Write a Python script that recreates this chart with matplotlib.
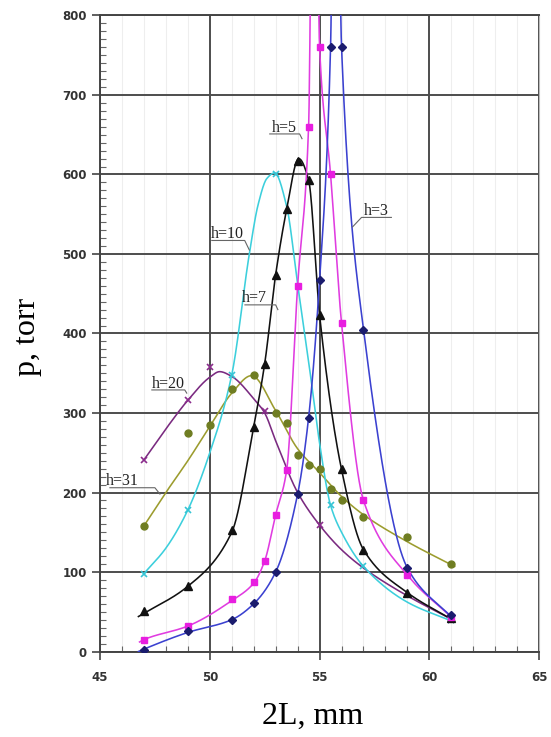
import numpy as np
import matplotlib.pyplot as plt
from matplotlib.ticker import MultipleLocator

# measured points (2L in mm, p in torr)
h3_x = [47, 49, 51, 52, 53, 54, 54.5, 55, 55.5, 56, 57, 59, 61]
h3_p = [2, 26, 40, 61, 100, 198, 294, 467, 760, 760, 405, 105, 46]
h5_x = [47, 49, 51, 52, 52.5, 53, 53.5, 54, 54.5, 55, 55.5, 56, 57, 59, 61]
h5_p = [15, 32, 66, 87, 114, 172, 228, 460, 660, 760, 600, 413, 190, 96, 44]
h7_x = [47, 49, 51, 52, 52.5, 53, 53.5, 54, 54.5, 55, 56, 57, 59, 61]
h7_p = [51, 82, 153, 283, 362, 474, 556, 617, 593, 423, 229, 128, 74, 42]
h10_x = [47, 49, 51, 53, 55.5, 57, 61]
h10_p = [98, 178, 348, 601, 184, 107, 40]
h20_x = [47, 49, 50, 52.5, 55, 61]
h20_p = [241, 316, 358, 302, 159, 40]
h31_x = [47, 49, 50, 51, 52, 53, 53.5, 54, 54.5, 55, 55.5, 56, 57, 59, 61]
h31_p = [158, 275, 285, 330, 348, 300, 287, 247, 235, 230, 204, 190, 169, 144, 110]

# fitted curves
f3_x = [46.75, 47, 49, 51, 52, 53, 54, 54.5, 55, 55.5, 55.72, 56, 57, 59, 61.05]
f3_p = [0, 3, 24, 40, 60, 100, 198, 294, 467, 760, 1250, 760, 405, 105, 42]
f5_x = [46.8, 47, 49, 51, 52, 52.5, 53, 53.5, 54, 54.5, 54.75, 55, 55.5, 56, 57, 59, 61.05]
f5_p = [12, 15, 32, 64, 86, 114, 172, 228, 460, 660, 1250, 760, 600, 413, 190, 96, 42]
f7_x = [46.75, 47, 49, 51, 52, 52.5, 53, 53.5, 54.05, 54.5, 55, 56, 57, 59, 61.05]
f7_p = [44, 48, 82, 150, 283, 362, 474, 556, 620, 593, 423, 229, 128, 74, 40]
f10_x = [47, 48, 49, 50, 51, 51.8, 52.2, 52.6, 52.95, 53.5, 54, 54.5, 55, 55.5, 56, 57, 59, 61.05]
f10_p = [98, 130, 178, 250, 348, 500, 562, 595, 602, 560, 462, 365, 262, 184, 150, 107, 62, 38]
f20_x = [47, 48, 49, 50, 50.45, 51, 52, 52.5, 53, 54, 55, 56, 57, 59, 61.05]
f20_p = [241, 280, 316, 345, 352, 346, 318, 300, 265, 200, 159, 128, 105, 70, 40]
f31_x = [47, 48, 49, 50, 51, 51.9, 53, 54, 55, 56, 57, 59, 61.15]
f31_p = [158, 200, 240, 283, 325, 347, 303, 255, 225, 195, 172, 138, 107]


def pchip(x, y, xn):
    x = np.asarray(x, float)
    y = np.asarray(y, float)
    h = np.diff(x)
    d = np.diff(y) / h
    m = np.zeros_like(y)
    for k in range(1, len(x) - 1):
        if d[k - 1] * d[k] > 0:
            w1 = 2 * h[k] + h[k - 1]
            w2 = h[k] + 2 * h[k - 1]
            m[k] = (w1 + w2) / (w1 / d[k - 1] + w2 / d[k])
    m[0], m[-1] = d[0], d[-1]
    i = np.clip(np.searchsorted(x, xn) - 1, 0, len(h) - 1)
    t = (xn - x[i]) / h[i]
    return ((2 * t**3 - 3 * t**2 + 1) * y[i] + (t**3 - 2 * t**2 + t) * h[i] * m[i]
            + (-2 * t**3 + 3 * t**2) * y[i + 1] + (t**3 - t**2) * h[i] * m[i + 1])


fig = plt.figure(figsize=(5.51, 7.37), dpi=100)
ax = fig.add_axes([0.1815, 0.116, 0.797, 0.863])

series = [
    (f31_x, f31_p, h31_x, h31_p, '#9c9c2e', '#6f7d22', 'o', 5, 1.0),
    (f20_x, f20_p, h20_x, h20_p, '#7a2a80', '#8a2c8c', 'x', 5, 1.2),
    (f10_x, f10_p, h10_x, h10_p, '#3ccfdc', '#35c4d4', 'x', 5, 1.2),
    (f7_x, f7_p, h7_x, h7_p, '#111111', '#111111', '^', 5.5, 1.0),
    (f5_x, f5_p, h5_x, h5_p, '#e03ce0', '#e81ee0', 's', 5, 1.0),
    (f3_x, f3_p, h3_x, h3_p, '#3b41d0', '#1b1c6e', 'D', 4, 1.0),
]
for fx, fp, mx, mp, lc, mc, mk, ms, mew in series:
    xs = np.linspace(fx[0], fx[-1], 800)
    ax.plot(xs, pchip(fx, fp, xs), color=lc, lw=1.15, zorder=3)
    ax.plot(mx, mp, ls='none', marker=mk, ms=ms, color=mc, mew=mew, zorder=4)

# label, text x, underline start/end x, underline y, leader end x/y
labels = [
    ('h=3', 57.59, 58.27, 56.91, 546, 56.5, 534),
    ('h=5', 53.41, 52.73, 54.09, 651, 54.2, 645),
    ('h=10', 50.82, 50.09, 51.59, 517, 51.8, 505),
    ('h=7', 52.05, 51.6, 53.0, 436, 53.1, 430),
    ('h=20', 48.11, 47.36, 48.86, 329, 48.95, 325),
    ('h=31', 46.02, 45.45, 47.5, 206, 47.73, 198),
]
for txt, tx, u0, u1, uy, lx, ly in labels:
    ax.text(tx, uy + 3, txt, ha='center', va='baseline', fontsize=11.5,
            family='Liberation Serif', color='#222222', zorder=6)
    ax.plot([u0, u1, lx], [uy, uy, ly], color='#666666', lw=0.8, zorder=5)

ax.set_xlim(45, 65)
ax.set_ylim(0, 800)
ax.xaxis.set_major_locator(MultipleLocator(5))
ax.xaxis.set_minor_locator(MultipleLocator(1))
ax.yaxis.set_major_locator(MultipleLocator(100))
ax.yaxis.set_minor_locator(MultipleLocator(10))
ax.grid(which='major', color='#4d4d4d', lw=1.4, zorder=1)
ax.grid(which='minor', axis='x', color='#eeeeee', lw=0.8, zorder=0)
ax.tick_params(which='major', direction='out', length=6, width=1.2, color='#444444')
ax.tick_params(which='minor', direction='in', length=4, width=0.8, color='#666666')
ax.tick_params(axis='x', which='major', pad=8)
ax.tick_params(labelsize=8.5)
for lab in ax.get_xticklabels() + ax.get_yticklabels():
    lab.set_fontweight('bold')
    lab.set_family('DejaVu Sans')
    lab.set_color('#333333')
for side in ['left', 'bottom', 'top']:
    ax.spines[side].set_color('#444444')
    ax.spines[side].set_linewidth(1.4)
ax.spines['right'].set_color('#bbbbbb')

fig.text(313 / 551, 1 - 716 / 737, '2L, mm', family='Liberation Serif',
         fontsize=23, ha='center', va='center')
fig.text(28 / 551, 1 - 337 / 737, 'p, torr', family='Liberation Serif',
         fontsize=23, ha='center', va='center', rotation=90)

fig.savefig('out.png', dpi=100)
